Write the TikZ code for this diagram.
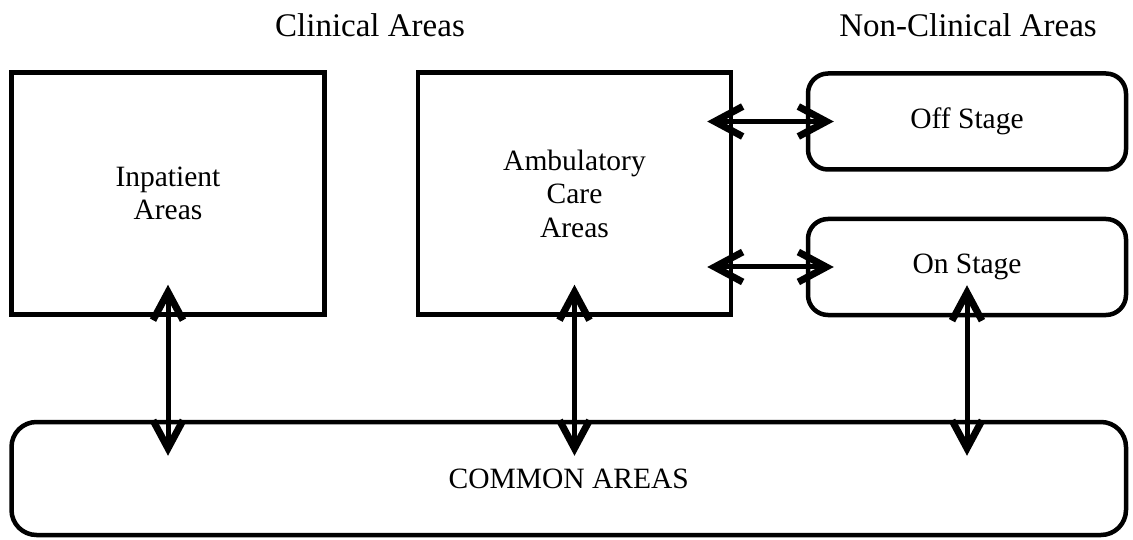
\documentclass[tikz,border=0pt]{standalone}
\usepackage{fontspec}
\setmainfont{Liberation Serif}
\usetikzlibrary{arrows.meta}

\begin{document}
\begin{tikzpicture}
[x=1pt,y=-1pt,
 every node/.style={font=\fontsize{29.5}{33.5}\selectfont,align=center,inner sep=0pt},
 area/.style={draw,line width=4.5pt,minimum width=313pt,minimum height=242pt},
 stage/.style={draw,line width=4.5pt,rounded corners=20pt,minimum width=318pt,minimum height=96pt},
 heading/.style={font=\fontsize{33}{38}\selectfont},
 link/.style={line width=5pt,{Straight Barb[length=28pt,width=30pt,line width=7pt]}-{Straight Barb[length=28pt,width=30pt,line width=7pt]}}]
  \useasboundingbox (0,0) rectangle (1133,540);
  \node[heading] (clin) at (370,25) {Clinical Areas};
  \node[heading] (nonclin) at (968,25) {Non-Clinical Areas};
  \node[area] (inpat) at (168,193.5) {Inpatient\\Areas};
  \node[area] (amb) at (574.5,193.5) {Ambulatory\\Care\\Areas};
  \node[stage] (off) at (967,121.5) {Off Stage};
  \node[stage] (on) at (967,267) {On Stage};
  \node[draw,line width=4.5pt,rounded corners=25pt,minimum width=1114.5pt,minimum height=113pt]
    (common) at (568.75,478.5) {COMMON AREAS};
  \foreach \from in {inpat, amb, on}
    \draw[link,shorten <=-32pt,shorten >=-36pt] (\from.south) -- (\from.south |- common.north);
  \foreach \to in {off, on}
    \draw[link,shorten <=-26pt,shorten >=-28pt] (\to.west -| amb.east) -- (\to.west);

\end{tikzpicture}
\end{document}
